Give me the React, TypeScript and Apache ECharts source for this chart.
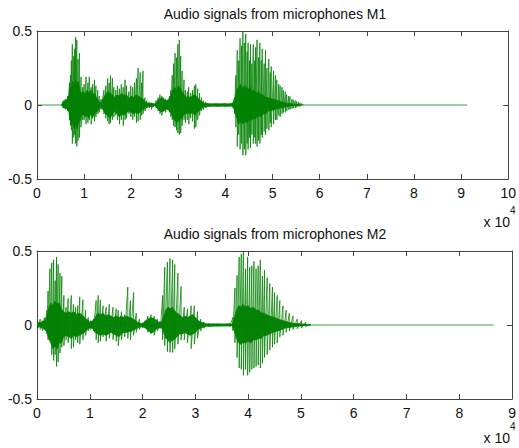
import React, { useEffect, useRef } from "react";
import * as echarts from "echarts";

// Titles and labels
const titleM1 = "Audio signals from microphones M1";
const titleM2 = "Audio signals from microphones M2";
const scaleText = "x 10";
const scaleExp = "4";

// Axis ranges (x in units of 10^4 samples)
const xMaxM1 = 10;
const xMaxM2 = 9;
const yTicks = [-0.5, 0, 0.5];

// Signal end (where the recorded flat line stops)
const m1End = 9.13;
const m2End = 8.65;

// Tall spikes: [x, upper peak, lower peak]
const m1Spikes: number[][] = [
  [0.52, 0, 0], [0.56, 0.03, -0.02], [0.6, 0.04, -0.03], [0.65, 0.06, -0.04], [0.69, 0.15, -0.1],
  [0.71, 0.2, -0.14], [0.73, 0.3, -0.17], [0.75, 0.41, -0.26], [0.78, 0.33, -0.22], [0.8, 0.38, -0.2],
  [0.82, 0.46, -0.26], [0.845, 0.44, -0.28], [0.87, 0.31, -0.24], [0.9, 0.35, -0.22], [0.935, 0.19, -0.15],
  [0.97, 0.12, -0.1], [1.0, 0.14, -0.1], [1.04, 0.19, -0.13], [1.08, 0.15, -0.12], [1.11, 0.19, -0.1],
  [1.15, 0.12, -0.13], [1.18, 0.14, -0.09], [1.22, 0.17, -0.11], [1.25, 0.13, -0.08], [1.29, 0.1, -0.06],
  [1.32, 0.06, -0.05], [1.36, 0.04, -0.03], [1.42, 0.1, -0.06], [1.46, 0.13, -0.09], [1.5, 0.18, -0.11],
  [1.53, 0.15, -0.13], [1.56, 0.2, -0.12], [1.6, 0.18, -0.1], [1.63, 0.12, -0.08], [1.67, 0.1, -0.07],
  [1.71, 0.13, -0.1], [1.75, 0.11, -0.13], [1.79, 0.14, -0.1], [1.83, 0.12, -0.14], [1.87, 0.17, -0.1],
  [1.9, 0.13, -0.09], [1.95, 0.09, -0.06], [1.99, 0.13, -0.08], [2.03, 0.12, -0.1], [2.07, 0.15, -0.08],
  [2.11, 0.18, -0.12], [2.145, 0.25, -0.11], [2.19, 0.22, -0.1], [2.22, 0.15, -0.07], [2.25, 0.23, -0.06],
  [2.29, 0.05, -0.04], [2.33, 0.03, -0.02], [2.38, 0.02, -0.02], [2.43, 0.015, -0.03], [2.47, 0.01, -0.01],
  [2.53, 0.03, -0.02], [2.57, 0.05, -0.04], [2.61, 0.07, -0.06], [2.65, 0.06, -0.07], [2.69, 0.05, -0.04],
  [2.73, 0.04, -0.05], [2.77, 0.03, -0.03], [2.81, 0.06, -0.05], [2.84, 0.1, -0.08], [2.87, 0.2, -0.1],
  [2.9, 0.28, -0.14], [2.93, 0.35, -0.15], [2.96, 0.32, -0.17], [2.99, 0.41, -0.19], [3.02, 0.44, -0.2],
  [3.05, 0.33, -0.19], [3.08, 0.23, -0.14], [3.12, 0.17, -0.1], [3.15, 0.1, -0.12], [3.19, 0.09, -0.1],
  [3.22, 0.12, -0.13], [3.26, 0.08, -0.09], [3.3, 0.1, -0.11], [3.34, 0.13, -0.16], [3.37, 0.14, -0.15],
  [3.41, 0.11, -0.1], [3.45, 0.08, -0.07], [3.49, 0.05, -0.04], [3.53, 0.03, -0.03], [3.58, 0.02, -0.02],
  [3.63, 0.01, -0.01], [3.8, 0.008, -0.008], [4.0, 0.01, -0.01], [4.15, 0.015, -0.015], [4.19, 0.05, -0.06],
  [4.22, 0.2, -0.15], [4.25, 0.37, -0.28], [4.28, 0.3, -0.2], [4.31, 0.45, -0.3], [4.34, 0.4, -0.26],
  [4.37, 0.5, -0.34], [4.4, 0.42, -0.3], [4.43, 0.48, -0.34], [4.46, 0.36, -0.26], [4.48, 0.42, -0.3],
  [4.51, 0.3, -0.22], [4.53, 0.41, -0.29], [4.56, 0.28, -0.2], [4.59, 0.41, -0.26], [4.62, 0.3, -0.22],
  [4.64, 0.39, -0.26], [4.67, 0.44, -0.28], [4.7, 0.32, -0.24], [4.73, 0.42, -0.26], [4.76, 0.3, -0.2],
  [4.78, 0.38, -0.22], [4.82, 0.28, -0.18], [4.85, 0.37, -0.2], [4.88, 0.25, -0.16], [4.92, 0.31, -0.17],
  [4.95, 0.22, -0.12], [4.97, 0.26, -0.15], [5.02, 0.23, -0.13], [5.06, 0.2, -0.1], [5.09, 0.17, -0.1],
  [5.13, 0.14, -0.07], [5.16, 0.13, -0.08], [5.2, 0.12, -0.06], [5.23, 0.1, -0.05], [5.27, 0.09, -0.05],
  [5.3, 0.07, -0.04], [5.34, 0.06, -0.03], [5.37, 0.057, -0.03], [5.41, 0.04, -0.025], [5.44, 0.035, -0.02],
  [5.48, 0.03, -0.02], [5.51, 0.025, -0.015], [5.55, 0.02, -0.01], [5.58, 0.015, -0.01], [5.62, 0.01, -0.005],
  [5.65, 0.005, 0],
];

// Dense core envelope: [x, upper, lower]
const m1Core: number[][] = [
  [0.52, 0, 0], [0.56, 0.02, -0.02], [0.6, 0.03, -0.02], [0.65, 0.04, -0.03], [0.68, 0.07, -0.05],
  [0.7, 0.12, -0.1], [0.73, 0.1, -0.13], [0.76, 0.16, -0.12], [0.79, 0.13, -0.16], [0.82, 0.17, -0.13],
  [0.85, 0.14, -0.16], [0.88, 0.16, -0.12], [0.91, 0.1, -0.11], [0.94, 0.08, -0.07], [0.98, 0.09, -0.06],
  [1.02, 0.07, -0.08], [1.06, 0.1, -0.07], [1.1, 0.08, -0.09], [1.14, 0.1, -0.06], [1.18, 0.07, -0.08],
  [1.22, 0.08, -0.06], [1.26, 0.05, -0.05], [1.3, 0.03, -0.03], [1.35, 0.015, -0.015], [1.4, 0.04, -0.03],
  [1.45, 0.07, -0.06], [1.5, 0.09, -0.07], [1.55, 0.08, -0.09], [1.6, 0.07, -0.06], [1.65, 0.05, -0.04],
  [1.7, 0.07, -0.06], [1.75, 0.06, -0.08], [1.8, 0.08, -0.06], [1.85, 0.06, -0.07], [1.9, 0.07, -0.05],
  [1.95, 0.04, -0.04], [2.0, 0.06, -0.05], [2.05, 0.05, -0.06], [2.1, 0.07, -0.05], [2.15, 0.06, -0.06],
  [2.2, 0.05, -0.04], [2.25, 0.04, -0.03], [2.3, 0.02, -0.02], [2.35, 0.012, -0.012], [2.45, 0.01, -0.01],
  [2.5, 0.005, -0.005], [2.55, 0.025, -0.02], [2.6, 0.04, -0.04], [2.65, 0.05, -0.045], [2.7, 0.035, -0.04],
  [2.75, 0.03, -0.025], [2.8, 0.035, -0.035], [2.84, 0.06, -0.05], [2.88, 0.1, -0.08], [2.92, 0.12, -0.1],
  [2.96, 0.1, -0.12], [3.0, 0.13, -0.11], [3.04, 0.11, -0.1], [3.08, 0.09, -0.09], [3.12, 0.07, -0.06],
  [3.16, 0.05, -0.06], [3.2, 0.06, -0.05], [3.25, 0.05, -0.06], [3.3, 0.06, -0.05], [3.35, 0.07, -0.07],
  [3.4, 0.05, -0.05], [3.45, 0.035, -0.035], [3.5, 0.02, -0.02], [3.55, 0.012, -0.012], [3.65, 0.008, -0.008],
  [4.15, 0.008, -0.008], [4.2, 0.04, -0.04], [4.24, 0.1, -0.09], [4.28, 0.12, -0.13], [4.32, 0.14, -0.11],
  [4.36, 0.11, -0.13], [4.4, 0.13, -0.11], [4.44, 0.12, -0.12], [4.48, 0.1, -0.11], [4.52, 0.12, -0.1],
  [4.56, 0.09, -0.1], [4.6, 0.1, -0.09], [4.65, 0.08, -0.09], [4.7, 0.09, -0.07], [4.75, 0.07, -0.08],
  [4.8, 0.07, -0.06], [4.85, 0.05, -0.06], [4.9, 0.05, -0.04], [5.0, 0.04, -0.035], [5.1, 0.03, -0.025],
  [5.2, 0.02, -0.02], [5.3, 0.012, -0.01], [5.4, 0.008, -0.006], [5.5, 0.004, -0.004], [5.6, 0, 0],
];

const m2Spikes: number[][] = [
  [0.0, 0, 0], [0.03, 0.02, -0.02], [0.06, 0.04, -0.03], [0.1, 0.03, -0.04], [0.14, 0.05, -0.03],
  [0.19, 0.1, -0.06], [0.21, 0.23, -0.1], [0.245, 0.38, -0.1], [0.28, 0.42, -0.2], [0.315, 0.44, -0.24],
  [0.345, 0.3, -0.2], [0.37, 0.46, -0.28], [0.4, 0.41, -0.25], [0.435, 0.35, -0.19], [0.47, 0.33, -0.15],
  [0.51, 0.2, -0.14], [0.55, 0.12, -0.1], [0.59, 0.18, -0.12], [0.65, 0.2, -0.16], [0.69, 0.14, -0.15],
  [0.73, 0.12, -0.1], [0.77, 0.13, -0.12], [0.81, 0.19, -0.13], [0.87, 0.17, -0.1], [0.92, 0.1, -0.07],
  [0.97, 0.05, -0.04], [1.02, 0.03, -0.03], [1.07, 0.04, -0.04], [1.12, 0.165, -0.1], [1.16, 0.2, -0.12],
  [1.2, 0.17, -0.11], [1.25, 0.13, -0.08], [1.31, 0.12, -0.11], [1.37, 0.14, -0.09], [1.44, 0.12, -0.1],
  [1.5, 0.11, -0.11], [1.54, 0.1, -0.14], [1.6, 0.09, -0.1], [1.66, 0.07, -0.08], [1.72, 0.256, -0.09],
  [1.77, 0.165, -0.1], [1.83, 0.22, -0.07], [1.88, 0.08, -0.05], [1.94, 0.04, -0.03], [2.0, 0.015, -0.02],
  [2.05, 0.03, -0.02], [2.1, 0.06, -0.05], [2.16, 0.07, -0.06], [2.22, 0.06, -0.07], [2.28, 0.04, -0.04],
  [2.34, 0.02, -0.02], [2.38, 0.2, -0.1], [2.42, 0.39, -0.14], [2.47, 0.425, -0.18], [2.52, 0.45, -0.185],
  [2.57, 0.44, -0.185], [2.61, 0.41, -0.16], [2.67, 0.35, -0.13], [2.73, 0.26, -0.1], [2.79, 0.12, -0.1],
  [2.85, 0.11, -0.12], [2.92, 0.13, -0.16], [2.98, 0.13, -0.13], [3.04, 0.09, -0.09], [3.1, 0.04, -0.04],
  [3.16, 0.02, -0.02], [3.25, 0.01, -0.01], [3.45, 0.006, -0.006], [3.65, 0.01, -0.01], [3.71, 0.05, -0.04],
  [3.75, 0.25, -0.12], [3.79, 0.335, -0.22], [3.83, 0.46, -0.29], [3.87, 0.48, -0.3], [3.91, 0.5, -0.34],
  [3.95, 0.38, -0.3], [3.99, 0.46, -0.34], [4.03, 0.39, -0.32], [4.07, 0.4, -0.3], [4.11, 0.43, -0.29],
  [4.15, 0.38, -0.28], [4.19, 0.4, -0.27], [4.23, 0.44, -0.29], [4.27, 0.33, -0.26], [4.31, 0.37, -0.22],
  [4.36, 0.32, -0.2], [4.41, 0.28, -0.17], [4.46, 0.256, -0.15], [4.5, 0.22, -0.13], [4.55, 0.2, -0.12],
  [4.6, 0.165, -0.08], [4.66, 0.13, -0.07], [4.72, 0.1, -0.05], [4.78, 0.08, -0.04], [4.85, 0.06, -0.03],
  [4.93, 0.04, -0.025], [5.01, 0.03, -0.02], [5.09, 0.02, -0.01], [5.18, 0.005, 0],
];

const m2Core: number[][] = [
  [0.0, 0, 0], [0.05, 0.015, -0.01], [0.1, 0.02, -0.02], [0.15, 0.03, -0.03], [0.19, 0.06, -0.05],
  [0.22, 0.11, -0.09], [0.26, 0.15, -0.12], [0.3, 0.13, -0.16], [0.34, 0.16, -0.14], [0.38, 0.14, -0.16],
  [0.42, 0.15, -0.12], [0.46, 0.11, -0.12], [0.5, 0.09, -0.08], [0.55, 0.08, -0.07], [0.6, 0.09, -0.08],
  [0.65, 0.08, -0.09], [0.7, 0.09, -0.07], [0.75, 0.07, -0.08], [0.8, 0.08, -0.07], [0.85, 0.07, -0.06],
  [0.9, 0.05, -0.05], [0.95, 0.035, -0.03], [1.0, 0.02, -0.02], [1.05, 0.025, -0.02], [1.1, 0.05, -0.05],
  [1.15, 0.08, -0.06], [1.2, 0.07, -0.07], [1.25, 0.08, -0.06], [1.3, 0.06, -0.07], [1.35, 0.07, -0.06],
  [1.4, 0.06, -0.05], [1.45, 0.05, -0.06], [1.5, 0.06, -0.07], [1.55, 0.05, -0.08], [1.6, 0.06, -0.06],
  [1.65, 0.05, -0.05], [1.7, 0.06, -0.05], [1.75, 0.05, -0.045], [1.8, 0.045, -0.04], [1.85, 0.035, -0.03],
  [1.9, 0.02, -0.02], [1.95, 0.012, -0.012], [2.0, 0.01, -0.01], [2.05, 0.025, -0.02], [2.1, 0.04, -0.035],
  [2.15, 0.05, -0.05], [2.2, 0.045, -0.05], [2.25, 0.035, -0.03], [2.3, 0.02, -0.02], [2.36, 0.02, -0.02],
  [2.4, 0.06, -0.05], [2.44, 0.1, -0.09], [2.48, 0.12, -0.1], [2.52, 0.11, -0.12], [2.56, 0.12, -0.1],
  [2.6, 0.1, -0.1], [2.65, 0.08, -0.08], [2.7, 0.07, -0.06], [2.75, 0.05, -0.06], [2.8, 0.06, -0.05],
  [2.85, 0.05, -0.06], [2.9, 0.06, -0.07], [2.95, 0.07, -0.06], [3.0, 0.05, -0.05], [3.05, 0.03, -0.03],
  [3.1, 0.02, -0.02], [3.2, 0.008, -0.008], [3.7, 0.006, -0.006], [3.74, 0.05, -0.04], [3.78, 0.1, -0.09],
  [3.82, 0.13, -0.12], [3.86, 0.12, -0.13], [3.9, 0.14, -0.12], [3.95, 0.12, -0.12], [4.0, 0.13, -0.11],
  [4.05, 0.11, -0.12], [4.1, 0.12, -0.1], [4.15, 0.1, -0.1], [4.2, 0.1, -0.09], [4.25, 0.08, -0.09],
  [4.3, 0.08, -0.07], [4.35, 0.07, -0.07], [4.4, 0.06, -0.06], [4.5, 0.05, -0.045], [4.6, 0.035, -0.035],
  [4.7, 0.025, -0.02], [4.8, 0.015, -0.015], [4.9, 0.01, -0.01], [5.0, 0.008, -0.006], [5.18, 0, 0],
];

const FONT = "'Liberation Sans', Arial, sans-serif";
const TEXT = "#111";
const AXIS = "#444";
const GREEN = "#008000";

function axesFor(gridIndex: number, xMax: number) {
  const line = { show: true, onZero: false, lineStyle: { color: AXIS, width: 1 } };
  const tick = { show: true, inside: true, length: 5, lineStyle: { color: AXIS } };
  const xBottom = {
    type: "value", gridIndex, min: 0, max: xMax, interval: 1, position: "bottom",
    axisLine: line, axisTick: tick, splitLine: { show: false },
    axisLabel: { show: true, margin: 7, color: TEXT, fontSize: 14, fontFamily: FONT },
  };
  const xTop = {
    type: "value", gridIndex, min: 0, max: xMax, interval: 1, position: "top",
    axisLine: line, axisTick: tick, splitLine: { show: false }, axisLabel: { show: false },
  };
  const yLeft = {
    type: "value", gridIndex, min: yTicks[0], max: yTicks[yTicks.length - 1], interval: 0.5,
    position: "left", axisLine: line, axisTick: tick, splitLine: { show: false },
    axisLabel: { show: true, margin: 5, color: TEXT, fontSize: 14, fontFamily: FONT },
  };
  const yRight = {
    type: "value", gridIndex, min: yTicks[0], max: yTicks[yTicks.length - 1], interval: 0.5,
    position: "right", axisLine: line, axisTick: tick, splitLine: { show: false }, axisLabel: { show: false },
  };
  return { x: [xBottom, xTop], y: [yLeft, yRight] };
}

function seriesFor(xAxisIndex: number, yAxisIndex: number, spikes: number[][], core: number[][], start: number, end: number) {
  const common = { type: "line", xAxisIndex, yAxisIndex, showSymbol: false, symbol: "none", silent: true, animation: false };
  const zig = spikes.flatMap(([x, hi, lo]) => [[x, hi], [x, lo]]);
  return [
    { ...common, data: [[start, 0], [end, 0]], lineStyle: { color: GREEN, width: 1, opacity: 0.75 } },
    {
      ...common, data: core.map(([x, hi]) => [x, hi]),
      lineStyle: { color: GREEN, width: 0.8 }, areaStyle: { color: GREEN, opacity: 0.95, origin: 0 },
    },
    {
      ...common, data: core.map(([x, , lo]) => [x, lo]),
      lineStyle: { color: GREEN, width: 0.8 }, areaStyle: { color: GREEN, opacity: 0.95, origin: 0 },
    },
    { ...common, data: zig, lineStyle: { color: GREEN, width: 1, opacity: 0.75 } },
  ];
}

export default function App() {
  const ref = useRef<HTMLDivElement>(null);
  useEffect(() => {
    if (!ref.current) return;
    const chart = echarts.init(ref.current, undefined, { renderer: "svg" });
    const a1 = axesFor(0, xMaxM1);
    const a2 = axesFor(1, xMaxM2);
    const option: any = {
      animation: false,
      backgroundColor: "#ffffff",
      title: [
        { text: titleM1, left: 275, top: 7, textAlign: "center", padding: 0,
          textStyle: { fontSize: 14, fontWeight: "normal", color: TEXT, fontFamily: FONT } },
        { text: titleM2, left: 275, top: 227, textAlign: "center", padding: 0,
          textStyle: { fontSize: 14, fontWeight: "normal", color: TEXT, fontFamily: FONT } },
      ],
      grid: [
        { left: 37, top: 31, width: 477, height: 148, containLabel: false },
        { left: 37, top: 251, width: 477, height: 148, containLabel: false },
      ],
      xAxis: [...a1.x, ...a2.x],
      yAxis: [...a1.y, ...a2.y],
      series: [
        ...seriesFor(0, 0, m1Spikes, m1Core, 0, m1End),
        ...seriesFor(2, 2, m2Spikes, m2Core, 0, m2End),
      ],
      graphic: [
        { type: "text", x: 510, y: 222, style: { text: scaleText, fill: TEXT, font: `14px ${FONT}`, textAlign: "right", textVerticalAlign: "middle" } },
        { type: "text", x: 510, y: 210, style: { text: scaleExp, fill: TEXT, font: `10px ${FONT}`, textAlign: "left", textVerticalAlign: "middle" } },
        { type: "text", x: 510, y: 438, style: { text: scaleText, fill: TEXT, font: `14px ${FONT}`, textAlign: "right", textVerticalAlign: "middle" } },
        { type: "text", x: 510, y: 426, style: { text: scaleExp, fill: TEXT, font: `10px ${FONT}`, textAlign: "left", textVerticalAlign: "middle" } },
      ],
    };
    chart.setOption(option);
    return () => chart.dispose();
  }, []);
  return <div ref={ref} style={{ position: "absolute", left: 0, top: 0, width: 519, height: 448 }} />;
}
